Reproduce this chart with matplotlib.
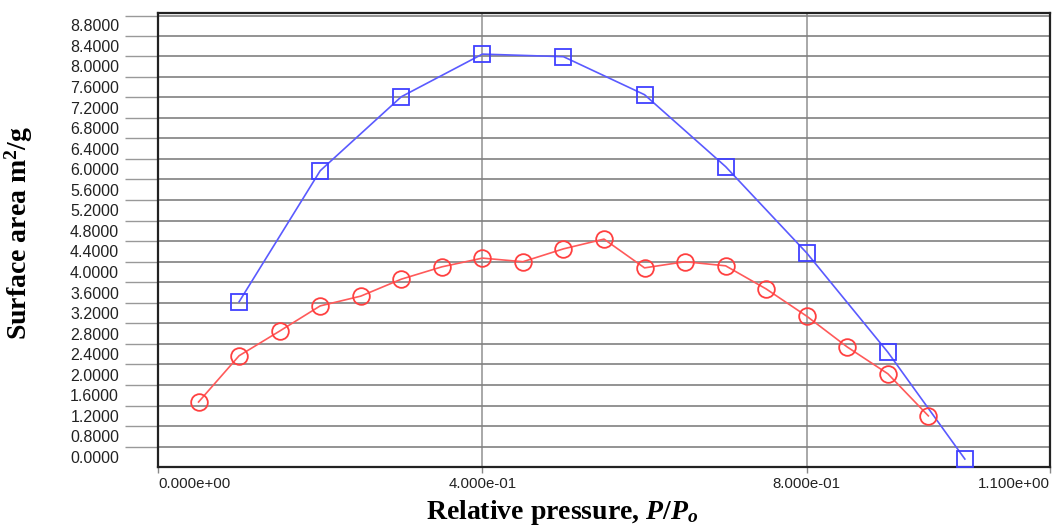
import matplotlib.pyplot as plt

# data
blue_x = [0.1, 0.2, 0.3, 0.4, 0.5, 0.6, 0.7, 0.8, 0.9, 0.995]
blue_y = [3.42, 5.97, 7.41, 8.24, 8.19, 7.45, 6.05, 4.37, 2.44, 0.36]

red_x = [0.05, 0.1, 0.15, 0.2, 0.25, 0.3, 0.35, 0.4, 0.45, 0.5,
         0.55, 0.6, 0.65, 0.7, 0.75, 0.8, 0.85, 0.9, 0.95]
red_y = [1.47, 2.37, 2.85, 3.34, 3.53, 3.86, 4.10, 4.27, 4.20, 4.45,
         4.64, 4.08, 4.20, 4.12, 3.67, 3.14, 2.54, 2.02, 1.20]

# the original software prints these labels (0.4 is missing, bottom reads 0.0000)
y_tick_vals = [0.4 + 0.4 * k for k in range(22)]
y_tick_labels = ["0.0000", "0.8000", "1.2000", "1.6000", "2.0000", "2.4000",
                 "2.8000", "3.2000", "3.6000", "4.0000", "4.4000", "4.8000",
                 "5.2000", "5.6000", "6.0000", "6.4000", "6.8000", "7.2000",
                 "7.6000", "8.0000", "8.4000", "8.8000"]
y_grid_vals = [0.6 + 0.4 * k for k in range(21)] + [8.98]

x_tick_vals = [0.0, 0.4, 0.8, 1.1]
x_tick_labels = ["0.000e+00", "4.000e-01", "8.000e-01", "1.100e+00"]

plt.rcParams['mathtext.fontset'] = 'custom'
plt.rcParams['mathtext.rm'] = 'Liberation Serif:bold'
plt.rcParams['mathtext.it'] = 'Liberation Serif:italic:bold'
plt.rcParams['mathtext.bf'] = 'Liberation Serif:bold'

fig = plt.figure(figsize=(10.52, 5.26), dpi=100)
ax = fig.add_axes([158 / 1052, 1 - 467 / 526, 892 / 1052, 454 / 526])

ax.plot(blue_x, blue_y, color="#5a5aff", lw=1.2, marker="s", ms=12,
        mfc="none", mec="#4040ff", mew=1.3, clip_on=False, zorder=3)
ax.plot(red_x, red_y, color="#ff5a5a", lw=1.2, marker="o", ms=12,
        mfc="none", mec="#ff4040", mew=1.3, clip_on=False, zorder=3)

ax.set_xlim(0, 1.1)
ax.set_ylim(0.205, 9.04)

# y axis: labels sit between the grid lines
ax.set_yticks(y_tick_vals)
ax.set_yticklabels(y_tick_labels, fontsize=11.5, family="Liberation Sans",
                   color="#222222")
ax.set_yticks(y_grid_vals, minor=True)
ax.tick_params(axis="y", which="major", length=0, pad=28)
ax.tick_params(axis="y", which="minor", length=24, width=1.0, color="#999999")
ax.grid(True, axis="y", which="minor", color="#808080", lw=1.2)

# x axis
ax.set_xticks(x_tick_vals)
ax.set_xticklabels(x_tick_labels, fontsize=10.8, family="Liberation Sans",
                   color="#222222")
ax.tick_params(axis="x", length=4, width=1, color="#888888", pad=3)
labels = ax.get_xticklabels()
labels[0].set_ha("left")
labels[-1].set_ha("right")
for v in [0.4, 0.8]:
    ax.axvline(v, color="#999999", lw=1.2, zorder=1)

for s in ax.spines.values():
    s.set_linewidth(1.6)
    s.set_color("#222222")

ax.set_xlabel("Relative pressure, $P$/$P_o$", fontsize=20,
              family="Liberation Serif", fontweight="bold")
ax.xaxis.set_label_coords(0.453, -0.068)
ax.set_ylabel("Surface area m$^{2}$/g", fontsize=20,
              family="Liberation Serif", fontweight="bold")
ax.yaxis.set_label_coords(-0.138, 0.515)

fig.savefig("out.png", dpi=100)
